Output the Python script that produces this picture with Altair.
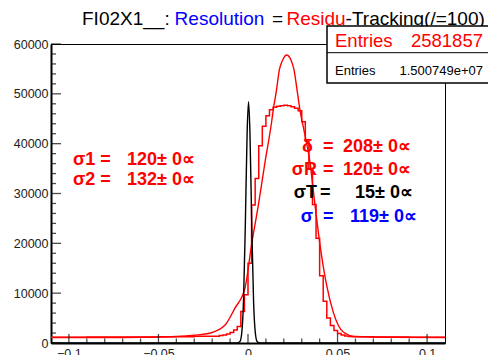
import altair as alt
import pandas as pd

# ---------------- data ----------------
# red residual histogram: bin edges and counts
hist_edges = [-0.11, -0.09, -0.07, -0.05, -0.03,
              -0.016, -0.014, -0.012, -0.010, -0.008, -0.006, -0.004, -0.002,
              0.000, 0.002, 0.004, 0.006, 0.008, 0.010, 0.012, 0.014, 0.016,
              0.018, 0.020, 0.022, 0.024, 0.026, 0.028, 0.030, 0.032, 0.034,
              0.036, 0.038, 0.040, 0.042, 0.044, 0.046, 0.048, 0.050, 0.052,
              0.054, 0.056, 0.058, 0.07, 0.09, 0.11]
hist_counts = [1150, 1200, 1200, 1250, 1350,
               1500, 1600, 1800, 2100, 2600, 3300, 6300, 9700,
               16000, 27700, 33000, 39600, 43500, 45600, 46800, 47300, 47500,
               47600, 47700, 47600, 47400, 47100, 46600, 44400, 40500, 35000,
               27800, 21000, 13500, 8400, 5000, 3500, 2500, 1900, 1600,
               1400, 1300, 1250, 1200, 1150]

# red smooth fit curve
fit_x = [-0.11, -0.08, -0.06, -0.04, -0.03, -0.021, -0.0128, -0.0073, -0.0017,
         0.0021, 0.0058, 0.0095, 0.0132, 0.0141, 0.0158, 0.0175, 0.0194, 0.0215,
         0.0240, 0.0257, 0.0275, 0.0290, 0.0309, 0.0346, 0.0374, 0.0402, 0.0439,
         0.0476, 0.0532, 0.060, 0.080, 0.11]
fit_y = [1100, 1100, 1150, 1300, 1550, 2000, 3600, 7000, 11000,
         20000, 27700, 36300, 44400, 46800, 50500, 54800, 56800, 57800,
         56800, 54800, 50500, 46800, 43300, 36300, 27700, 19700, 11600,
         6200, 2200, 1300, 1150, 1100]

# black tracking peak
track_x = [-0.11, -0.006, -0.0045, -0.0035, -0.0025, -0.0015, -0.0005, 0.0003,
           0.0011, 0.0021, 0.0031, 0.0041, 0.0051, 0.0066, 0.11]
track_y = [0, 0, 290, 2000, 8500, 23600, 42000, 48400,
           42000, 23600, 8500, 2000, 290, 0, 0]

x_major = [-0.1, -0.05, 0, 0.05, 0.1]
x_minor = [-0.09, -0.08, -0.07, -0.06, -0.04, -0.03, -0.02, -0.01,
           0.01, 0.02, 0.03, 0.04, 0.06, 0.07, 0.08, 0.09]
y_major = [0, 10000, 20000, 30000, 40000, 50000, 60000]
y_minor = [v for v in range(2000, 60000, 2000) if v % 10000 != 0]

title_parts = ["FI02X1__:", "Resolution", "=", "Residu", "-Tracking(/=100)"]
left_labels = ["σ1 =", "σ2 ="]
left_values = ["120± 0∝", "132± 0∝"]
right_labels = ["δ", "σR", "σT", "σ"]
right_values = ["208± 0∝", "120± 0∝", "15± 0∝", "119± 0∝"]
entries_main = "2581857"
entries_other = "1.500749e+07"

# ---------------- styling ----------------
RED = "#ff0000"
BLUE = "#0000ff"
BLACK = "#000000"
FONT = "Liberation Sans"
W, H = 394, 299

XS = alt.Scale(domain=[-0.11, 0.11], nice=False, zero=False)
YS = alt.Scale(domain=[0, 60000], nice=False, zero=False)
XAX = alt.Axis(values=x_major, format=".2~f", ticks=False, grid=False,
               labelPadding=4, domainWidth=2, domainColor=BLACK,
               labelFontSize=12.5, labelFont=FONT, labelColor="#222",
               labelOverlap=False, labelFlush=False, title=None)
YAX = alt.Axis(values=y_major, format="d", ticks=False, grid=False,
               labelPadding=3, domainWidth=2, domainColor=BLACK,
               labelFontSize=12.5, labelFont=FONT, labelColor="#222",
               labelOverlap=False, title=None)

one = pd.DataFrame({"k": [0]})


def X(field):
    return alt.X(field, scale=XS, axis=XAX, title=None)


def Y(field):
    return alt.Y(field, scale=YS, axis=YAX, title=None)


def txt(text, x, y, color=BLACK, size=18, bold=True, align="left"):
    return alt.Chart(pd.DataFrame({"t": [text]})).mark_text(
        align=align, baseline="alphabetic", font=FONT, fontSize=size,
        fontWeight="bold" if bold else "normal", color=color
    ).encode(x=alt.value(x), y=alt.value(y), text="t:N")


hist_df = pd.DataFrame({"x": hist_edges, "y": hist_counts + [hist_counts[-1]]})
hist = alt.Chart(hist_df).mark_line(
    interpolate="step-after", color=RED, strokeWidth=1.5
).encode(x=X("x:Q"), y=Y("y:Q"))

fit = alt.Chart(pd.DataFrame({"x": fit_x, "y": fit_y})).mark_line(
    interpolate="monotone", color=RED, strokeWidth=1.4
).encode(x=X("x:Q"), y=Y("y:Q"))

track = alt.Chart(pd.DataFrame({"x": track_x, "y": track_y})).mark_line(
    interpolate="monotone", color=BLACK, strokeWidth=1.4
).encode(x=X("x:Q"), y=Y("y:Q"))


def yticks(vals, size):
    return alt.Chart(pd.DataFrame({"y": vals})).mark_tick(
        orient="horizontal", size=size, thickness=1.3, color=BLACK
    ).encode(y=Y("y:Q"), x=alt.value(size / 2))


def xticks(vals, size):
    return alt.Chart(pd.DataFrame({"x": vals})).mark_tick(
        orient="vertical", size=size, thickness=1.3, color=BLACK
    ).encode(x=X("x:Q"), y=alt.value(H - size / 2))


layers = [hist, fit, track,
          yticks(y_major, 10), yticks(y_minor, 5),
          xticks(x_major, 9), xticks(x_minor, 4.5)]

# annotations (left block)
for lab, val, yy in zip(left_labels, left_values, [121, 141]):
    layers.append(txt(lab, 22, yy, RED))
    layers.append(txt(val, 76, yy, RED))

# annotations (right block)
r_colors = [RED, RED, BLACK, BLUE]
r_lab_x = [262, 266, 266, 262]
r_eq_x = [272, 272, 269, 272]
r_val_x = [292, 292, 304, 299]
r_y = [107.7, 131, 154.3, 177.7]
for lab, val, c, lx, ex, vx, yy in zip(right_labels, right_values, r_colors,
                                       r_lab_x, r_eq_x, r_val_x, r_y):
    layers.append(txt(lab, lx, yy, c, align="right"))
    layers.append(txt("=", ex, yy, c))
    layers.append(txt(val, vx, yy, c))

# title
t_colors = [BLACK, BLUE, BLACK, RED, BLACK]
t_x = [31, 123.6, 221, 235.5, 294.6]
for part, c, xx in zip(title_parts, t_colors, t_x):
    layers.append(txt(part, xx, -19.5, c, size=19, bold=False))

# stat box
layers.append(alt.Chart(one).mark_rect(fill="white", stroke=BLACK, strokeWidth=1.5).encode(
    x=alt.value(276), x2=alt.value(450), y=alt.value(-18), y2=alt.value(39)))
layers.append(alt.Chart(one).mark_rule(color=BLACK, strokeWidth=1).encode(
    x=alt.value(276), x2=alt.value(450), y=alt.value(8.7)))
layers.append(txt("Entries", 284, 2.7, RED, size=18.5, bold=False))
layers.append(txt(entries_main, 432, 2.7, RED, size=18.5, bold=False, align="right"))
layers.append(txt("Entries", 284, 31, BLACK, size=13, bold=False))
layers.append(txt(entries_other, 432, 31, BLACK, size=13, bold=False, align="right"))

chart = alt.layer(*layers).properties(
    width=W, height=H,
    padding={"left": 51, "top": 44, "right": 43, "bottom": 12},
    autosize=alt.AutoSizeParams(type="none"),
    background="white",
).configure_view(stroke=BLACK, strokeWidth=1)

chart.save("out.html", embed_options={"renderer": "svg", "actions": False})
